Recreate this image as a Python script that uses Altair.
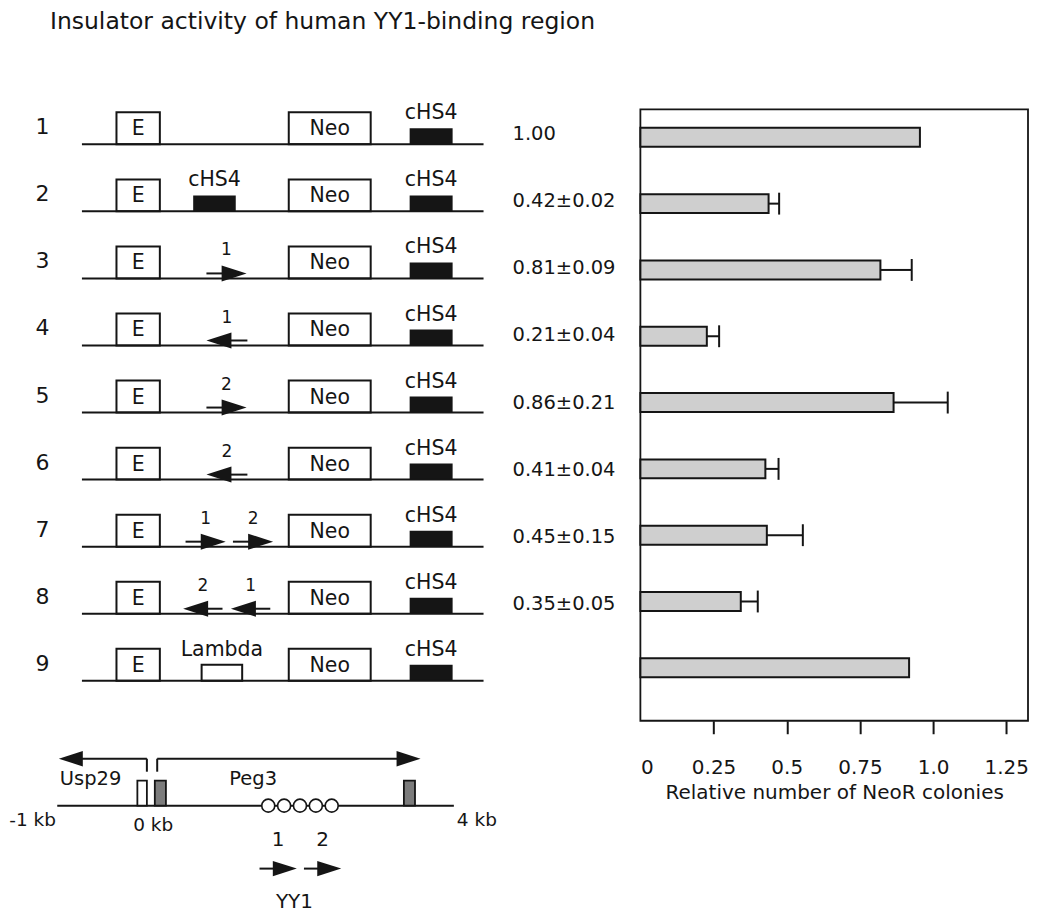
import altair as alt
import pandas as pd

FONT = "DejaVu Sans"
INK = "#151515"

# ---------------------------------------------------------------- data
TITLE = "Insulator activity of human YY1-binding region"

construct_ids = [1, 2, 3, 4, 5, 6, 7, 8, 9]
ratio_text = ["1.00", "0.42±0.02", "0.81±0.09", "0.21±0.04", "0.86±0.21",
              "0.41±0.04", "0.45±0.15", "0.35±0.05", ""]
bar_value = [0.955, 0.438, 0.820, 0.227, 0.865, 0.427, 0.432, 0.343, 0.918]
bar_error = [0.0, 0.036, 0.107, 0.042, 0.185, 0.045, 0.123, 0.058, 0.0]

# elements shared by every construct (position along the vector, 0-100)
common_names = ["E", "Neo", "cHS4"]
common_start = [8.6, 51.5, 81.6]
common_end = [19.4, 71.9, 92.3]
common_style = ["open_tall", "open_tall", "filled_short"]

# inserts between enhancer and Neo
insert_rows = [2, 9]
insert_names = ["cHS4", "Lambda"]
insert_start = [27.7, 29.8]
insert_end = [38.3, 39.9]
insert_style = ["filled_short", "open_short"]

# YY1-binding fragments (arrows) in constructs
frag_rows = [3, 4, 5, 6, 7, 7, 8, 8]
frag_names = ["1", "1", "2", "2", "1", "2", "2", "1"]
frag_dir = [1, -1, 1, -1, 1, 1, -1, -1]
frag_left = [31.0, 31.0, 31.0, 31.0, 25.8, 37.6, 25.2, 37.1]
frag_right = [41.0, 41.2, 41.0, 41.2, 35.8, 47.6, 35.0, 46.9]

# genomic map (kb)
map_start, map_end = -1.0, 4.0
exon_start = [0.01, 0.23, 3.37]
exon_end = [0.13, 0.37, 3.51]
exon_gene = ["Usp29", "Peg3", "Peg3"]
yy1_sites = [1.66, 1.86, 2.06, 2.26, 2.46]
gene_names = ["Usp29", "Peg3"]
gene_tss = [0.13, 0.26]
gene_tip = [-0.98, 3.58]
gene_dir = [-1, 1]
gene_label_pos = [-0.58, 1.47]
map_frag_names = ["1", "2"]
map_frag_start = [1.55, 2.11]
map_frag_end = [2.02, 2.58]
map_frag_title = "YY1"
map_frag_title_pos = 1.99
kb_labels = ["-1 kb", "0 kb", "4 kb"]
kb_label_pos = [-1.31, 0.21, 4.29]

# ---------------------------------------------------------------- layout
LEFT_W, LEFT_H = 623, 905
BAR_W, BAR_H = 388, 612
TOP_GAP = 101
ROW_PX = 67.125      # px per construct row
UNIT_PX = 4.02       # px per vector unit
KB_PX = 79.4         # px per kb
BAR_ROW_PX = 66.375
VAL_PX = 293.0


def rows(px):
    return px / ROW_PX


ys = alt.Scale(domain=[-1.0261, -1.0261 + LEFT_H / ROW_PX], reverse=True, nice=False, zero=False)
xu = alt.Scale(domain=[-18.41, -18.41 + LEFT_W / UNIT_PX], nice=False, zero=False)
xk = alt.Scale(domain=[-1.6209, -1.6209 + LEFT_W / KB_PX], nice=False, zero=False)


def enc(xs, x, y, x2=None, y2=None, **kw):
    e = dict(x=alt.X(x, type="quantitative", scale=xs, axis=None),
             y=alt.Y(y, type="quantitative", scale=ys, axis=None))
    if x2:
        e["x2"] = alt.X2(x2)
    if y2:
        e["y2"] = alt.Y2(y2)
    e.update(kw)
    return e


def txt(size, align="center", baseline="middle"):
    return dict(font=FONT, fontSize=size, align=align, baseline=baseline, color=INK)


HEAD_R = "M-1,-0.64L1,0L-1,0.64Z"
HEAD_L = "M1,-0.64L-1,0L1,0.64Z"

# ---------------------------------------------------------------- constructs
rows_df = pd.DataFrame({"row": construct_ids, "ratio": ratio_text,
                        "num": [str(i) for i in construct_ids]})

title = alt.Chart(pd.DataFrame({"t": [TITLE]})).transform_calculate(
    px="-7.96", py="-0.724"
).mark_text(**txt(23.5, "left", "alphabetic")).encode(**enc(xu, "px", "py"), text="t:N")

rownums = alt.Chart(rows_df).transform_calculate(
    nx="-9.83", ny=f"datum.row - {rows(17)}"
).mark_text(**txt(22)).encode(**enc(xu, "nx", "ny"), text="num:N")

backbone = alt.Chart(rows_df).transform_calculate(a="0", b="100").mark_rule(
    color=INK, strokeWidth=2
).encode(**enc(xu, "a", "row", x2="b"))

elem_records = []
for r in construct_ids:
    for n, s, e, st in zip(common_names, common_start, common_end, common_style):
        elem_records.append(dict(row=r, name=n, start=s, end=e, style=st))
for r, n, s, e, st in zip(insert_rows, insert_names, insert_start, insert_end, insert_style):
    elem_records.append(dict(row=r, name=n, start=s, end=e, style=st))
elem = alt.Chart(pd.DataFrame(elem_records)).transform_calculate(
    ytall=f"datum.row - {rows(32)}",
    yshort=f"datum.row - {rows(16)}",
    mid="(datum.start + datum.end) / 2",
    ylab=f"datum.style == 'open_tall' ? datum.row - {rows(15)} : datum.row - {rows(31)}",
)

tall = elem.transform_filter("datum.style == 'open_tall'").mark_rect(
    fill="white", stroke=INK, strokeWidth=2
).encode(**enc(xu, "start", "ytall", x2="end", y2="row"))
filled_short = elem.transform_filter("datum.style == 'filled_short'").mark_rect(
    fill=INK
).encode(**enc(xu, "start", "yshort", x2="end", y2="row"))
open_short = elem.transform_filter("datum.style == 'open_short'").mark_rect(
    fill="white", stroke=INK, strokeWidth=2
).encode(**enc(xu, "start", "yshort", x2="end", y2="row"))
elem_labels = elem.mark_text(**txt(20.5)).encode(**enc(xu, "mid", "ylab"), text="name:N")

frag = alt.Chart(pd.DataFrame({"row": frag_rows, "name": frag_names, "dir": frag_dir,
                               "left": frag_left, "right": frag_right})).transform_calculate(
    ya=f"datum.row - {rows(5)}",
    head=f"datum.dir > 0 ? datum.right - {12.5 / UNIT_PX} : datum.left + {12.5 / UNIT_PX}",
).transform_calculate(
    s0="datum.dir > 0 ? datum.left : datum.head",
    s1="datum.dir > 0 ? datum.head : datum.right",
    mid="(datum.left + datum.right) / 2",
    yl=f"datum.row - {rows(28)}",
)
shafts = frag.mark_rule(color=INK, strokeWidth=2).encode(**enc(xu, "s0", "ya", x2="s1"))
heads_r = frag.transform_filter("datum.dir > 0").mark_point(
    shape=HEAD_R, size=625, filled=True, fill=INK, strokeWidth=0, opacity=1
).encode(**enc(xu, "head", "ya"))
heads_l = frag.transform_filter("datum.dir < 0").mark_point(
    shape=HEAD_L, size=625, filled=True, fill=INK, strokeWidth=0, opacity=1
).encode(**enc(xu, "head", "ya"))
frag_labels = frag.mark_text(**txt(17)).encode(**enc(xu, "mid", "yl"), text="name:N")

values = alt.Chart(rows_df).transform_calculate(
    vx="107.21", vy=f"datum.row - {rows(10)}"
).mark_text(**txt(19.5, "left")).encode(**enc(xu, "vx", "vy"), text="ratio:N")

constructs_layer = alt.layer(title, rownums, tall, filled_short, open_short, backbone,
                             elem_labels, shafts, heads_r, heads_l, frag_labels, values)

# ---------------------------------------------------------------- genomic map
G = 1 + (806 - 144) / ROW_PX

gline = alt.Chart(pd.DataFrame({"a": [map_start], "b": [map_end]})).transform_calculate(
    gy=f"{G}").mark_rule(color=INK, strokeWidth=2).encode(**enc(xk, "a", "gy", x2="b"))

exons = alt.Chart(pd.DataFrame({"start": exon_start, "end": exon_end, "gene": exon_gene})
                  ).transform_calculate(y0=f"{G - rows(25)}", y1=f"{G}").mark_rect(
    stroke=INK, strokeWidth=1.8
).encode(**enc(xk, "start", "y0", x2="end", y2="y1"),
         fill=alt.Fill("gene:N", scale=alt.Scale(domain=["Usp29", "Peg3"],
                                                   range=["white", "#7c7c7c"]), legend=None))

sites = alt.Chart(pd.DataFrame({"kb": yy1_sites})).transform_calculate(gy=f"{G}").mark_point(
    shape="circle", size=169, filled=True, fill="white", stroke=INK, strokeWidth=1.6, opacity=1
).encode(**enc(xk, "kb", "gy"))

genes = alt.Chart(pd.DataFrame({"name": gene_names, "tss": gene_tss, "tip": gene_tip,
                                "dir": gene_dir, "lab": gene_label_pos})).transform_calculate(
    yv0=f"{G - rows(34)}", yv1=f"{G - rows(47)}",
    head=f"datum.tip - datum.dir * {12 / KB_PX}",
    yl=f"{G - rows(27)}",
)
gene_vert = genes.mark_rule(color=INK, strokeWidth=2).encode(**enc(xk, "tss", "yv0", y2="yv1"))
gene_horiz = genes.mark_rule(color=INK, strokeWidth=2).encode(**enc(xk, "tss", "yv1", x2="head"))
gene_head_r = genes.transform_filter("datum.dir > 0").mark_point(
    shape=HEAD_R, size=576, filled=True, fill=INK, strokeWidth=0, opacity=1
).encode(**enc(xk, "head", "yv1"))
gene_head_l = genes.transform_filter("datum.dir < 0").mark_point(
    shape=HEAD_L, size=576, filled=True, fill=INK, strokeWidth=0, opacity=1
).encode(**enc(xk, "head", "yv1"))
gene_labels = genes.mark_text(**txt(19.5)).encode(**enc(xk, "lab", "yl"), text="name:N")

kb_text = alt.Chart(pd.DataFrame({"lab": kb_labels, "pos": kb_label_pos})).transform_calculate(
    ky=f"datum.lab == '0 kb' ? {G + rows(19.5)} : {G + rows(14.5)}"
).mark_text(**txt(18.5)).encode(**enc(xk, "pos", "ky"), text="lab:N")

mfrag = alt.Chart(pd.DataFrame({"name": map_frag_names, "start": map_frag_start,
                                "end": map_frag_end})).transform_calculate(
    ay=f"{G + rows(63)}", head=f"datum.end - {12 / KB_PX}",
    mid="(datum.start + datum.end) / 2", ly=f"{G + rows(34)}",
)
mfrag_shaft = mfrag.mark_rule(color=INK, strokeWidth=2).encode(**enc(xk, "start", "ay", x2="head"))
mfrag_head = mfrag.mark_point(
    shape=HEAD_R, size=576, filled=True, fill=INK, strokeWidth=0, opacity=1
).encode(**enc(xk, "head", "ay"))
mfrag_labels = mfrag.mark_text(**txt(20)).encode(**enc(xk, "mid", "ly"), text="name:N")
mfrag_title = alt.Chart(pd.DataFrame({"t": [map_frag_title], "pos": [map_frag_title_pos]})
                        ).transform_calculate(ty=f"{G + rows(96)}").mark_text(**txt(20)).encode(
    **enc(xk, "pos", "ty"), text="t:N")

gene_layer = alt.layer(gline, exons, sites, gene_vert, gene_horiz, gene_head_r, gene_head_l,
                       gene_labels, kb_text, mfrag_shaft, mfrag_head, mfrag_labels, mfrag_title)

left = alt.layer(constructs_layer, gene_layer).resolve_scale(x="independent").properties(
    width=LEFT_W, height=LEFT_H)

# ---------------------------------------------------------------- bar chart
xb = alt.Scale(domain=[0, BAR_W / VAL_PX], nice=False, zero=False)
yb = alt.Scale(domain=[0.578, 0.578 + BAR_H / BAR_ROW_PX], reverse=True, nice=False, zero=False)
xaxis = alt.Axis(
    values=[0, 0.25, 0.5, 0.75, 1.0, 1.25], domain=False, grid=False,
    tickSize=13, tickWidth=2, tickColor=INK,
    tickOpacity={"condition": {"test": "datum.value == 0", "value": 0}, "value": 1},
    labelExpr="datum.value == 1 ? '1.0' : format(datum.value, '')",
    labelFont=FONT, labelFontSize=20, labelColor=INK, labelPadding=24,
    title="Relative number of NeoR colonies", titleFont=FONT, titleFontSize=20,
    titleFontWeight="normal", titleColor=INK, titlePadding=5,
)

bdf = pd.DataFrame({"row": construct_ids, "value": bar_value, "err": bar_error})
bbase = alt.Chart(bdf).transform_calculate(
    y0="datum.row - 0.143", y1="datum.row + 0.143", zero="0",
    hi="datum.value + datum.err", c0="datum.row - 0.165", c1="datum.row + 0.165",
)
bars = bbase.mark_rect(fill="#cfcfcf", stroke=INK, strokeWidth=2).encode(
    x=alt.X("value:Q", scale=xb, axis=xaxis), x2="zero:Q",
    y=alt.Y("y0:Q", scale=yb, axis=None), y2="y1:Q")
err_line = bbase.transform_filter("datum.err > 0").mark_rule(color=INK, strokeWidth=2).encode(
    x=alt.X("value:Q", scale=xb, axis=xaxis), x2="hi:Q",
    y=alt.Y("row:Q", scale=yb, axis=None))
err_cap = bbase.transform_filter("datum.err > 0").mark_rule(color=INK, strokeWidth=2).encode(
    x=alt.X("hi:Q", scale=xb, axis=xaxis),
    y=alt.Y("c0:Q", scale=yb, axis=None), y2="c1:Q")

bar_chart = alt.layer(bars, err_line, err_cap).properties(
    width=BAR_W, height=BAR_H, view=alt.ViewBackground(stroke=INK, strokeWidth=1.8))

spacer = alt.Chart(pd.DataFrame({"v": [0]})).mark_point(opacity=0).properties(
    width=BAR_W, height=TOP_GAP)

right = alt.vconcat(spacer, bar_chart, spacing=0, bounds="flush")

chart = alt.hconcat(left, right, spacing=10, bounds="flush").properties(
    padding=0, background="white").configure_view(strokeWidth=0)

chart.save("out.html", embed_options={"renderer": "svg", "actions": False})
